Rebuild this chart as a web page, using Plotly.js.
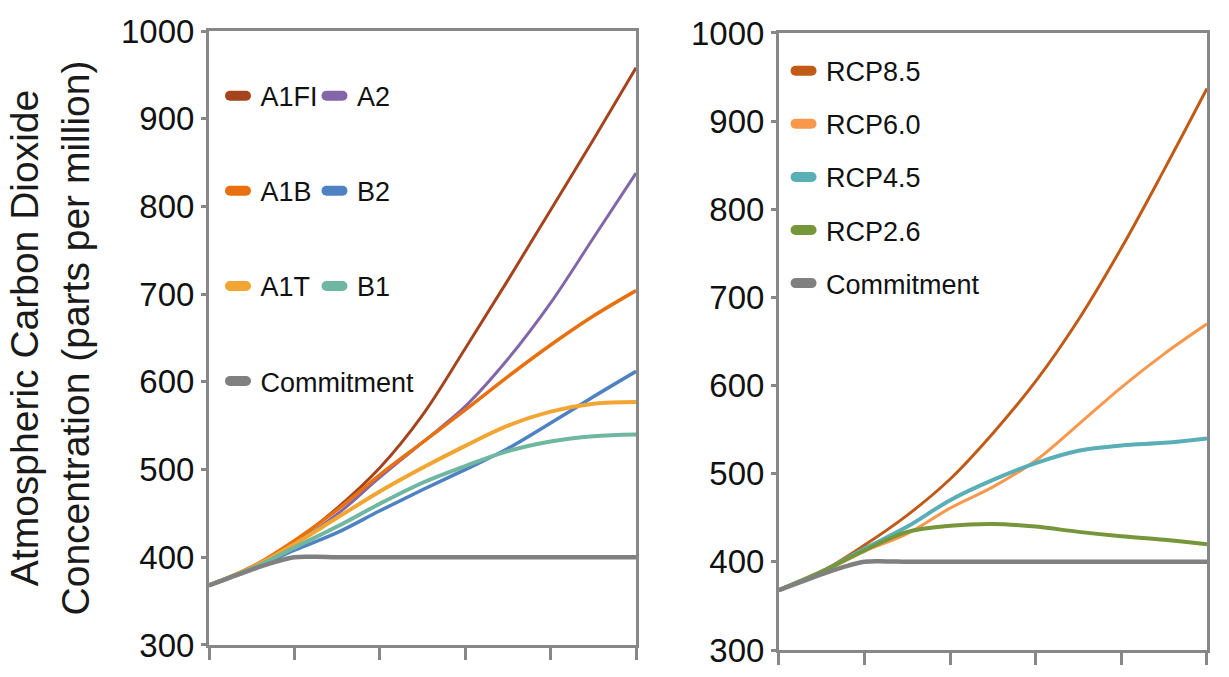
<!DOCTYPE html>
<html>
<head>
<meta charset="utf-8">
<script src="https://cdn.plot.ly/plotly-3.0.1.min.js"></script>
<style>
  html, body { margin: 0; padding: 0; background: #ffffff; }
  #chart { width: 1229px; height: 677px; }
  .legendlines path {
    stroke-width: 10px !important;
    stroke-linecap: round !important;
    stroke-dasharray: 16 100 !important;
    stroke-dashoffset: -4.5 !important;
  }
</style>
</head>
<body>
<div id="chart"></div>
<script>
// ---- data (ppm CO2) ----
const years = [2000, 2010, 2020, 2030, 2040, 2050, 2060, 2070, 2080, 2090, 2100];
const commitYears = [2000, 2005, 2010, 2015, 2020, 2025, 2030, 2040, 2060, 2080, 2100];

// SRES scenarios (left panel)
const a1fi = [368, 388, 418, 456, 502, 562, 638, 716, 796, 876, 958];
const a2   = [368, 387, 415, 449, 491, 531, 572, 626, 690, 764, 838];
const a1b  = [368, 389, 419, 454, 494, 531, 568, 606, 642, 675, 704];
const b2   = [368, 386, 408, 428, 453, 477, 500, 524, 553, 583, 612];
const a1t  = [368, 388, 415, 445, 475, 502, 527, 550, 566, 575, 577];
const b1   = [368, 387, 411, 435, 461, 485, 504, 521, 532, 538, 540];

// RCP scenarios (right panel)
const rcp85 = [368, 389, 419, 453, 494, 546, 605, 675, 756, 845, 937];
const rcp60 = [368, 388, 412, 432, 461, 485, 515, 556, 598, 636, 670];
const rcp45 = [368, 389, 415, 440, 470, 493, 512, 526, 532, 535, 540];
const rcp26 = [368, 389, 413, 434, 441, 443, 440, 434, 429, 425, 420];

// Commitment (constant composition)
const commitment = [368, 377, 386, 394, 400, 400.5, 400, 400, 400, 400, 400];

const yTicks = [300, 400, 500, 600, 700, 800, 900, 1000];
const yTitle = 'Atmospheric Carbon Dioxide<br>Concentration (parts per million)';

// ---- styling ----
const sans = '"Liberation Sans", Arial, sans-serif';
const axisGray = '#878787';

function tr(name, x, y, color, width, xa, ya, legend) {
  return {
    type: 'scatter', mode: 'lines', name: name, x: x, y: y,
    xaxis: xa, yaxis: ya, legend: legend, legendgroup: name + xa,
    line: {color: color, width: width, shape: 'spline', smoothing: 1},
    hoverinfo: 'skip'
  };
}

const data = [
  tr('A1FI', years, a1fi, '#a5441c', 3, 'x', 'y', 'legend'),
  tr('A2',   years, a2,   '#8266a8', 3, 'x', 'y', 'legend2'),
  tr('A1B',  years, a1b,  '#e8700f', 3.5, 'x', 'y', 'legend'),
  tr('B2',   years, b2,   '#4f82c2', 3.5, 'x', 'y', 'legend2'),
  tr('A1T',  years, a1t,  '#f2a533', 4, 'x', 'y', 'legend'),
  tr('B1',   years, b1,   '#6fb7a0', 4, 'x', 'y', 'legend2'),
  tr('Commitment', commitYears, commitment, '#808080', 4.5, 'x', 'y', 'legend'),
  tr('RCP8.5', years, rcp85, '#c05a15', 3, 'x2', 'y2', 'legend3'),
  tr('RCP6.0', years, rcp60, '#f7984c', 3, 'x2', 'y2', 'legend3'),
  tr('RCP4.5', years, rcp45, '#5aafb6', 4, 'x2', 'y2', 'legend3'),
  tr('RCP2.6', years, rcp26, '#76963a', 4, 'x2', 'y2', 'legend3'),
  tr('Commitment', commitYears, commitment, '#808080', 4.5, 'x2', 'y2', 'legend3')
];

function xAxis(domain, anchor) {
  return {
    domain: domain, anchor: anchor, range: [2000, 2100],
    tick0: 2000, dtick: 20, ticks: 'outside', ticklen: 12, tickwidth: 3,
    tickcolor: axisGray, showticklabels: false,
    showline: true, linewidth: 3, linecolor: axisGray, mirror: true,
    showgrid: false, zeroline: false, fixedrange: true
  };
}
function yAxis(domain, anchor) {
  return {
    domain: domain, anchor: anchor, range: [300, 1000],
    tickmode: 'array', tickvals: yTicks, ticktext: yTicks.map(String),
    ticks: 'outside', ticklen: 5, tickwidth: 3, tickcolor: axisGray,
    tickfont: {family: sans, size: 33, color: '#111111'},
    showline: true, linewidth: 3, linecolor: axisGray, mirror: true,
    showgrid: false, zeroline: false, fixedrange: true
  };
}

const yaxis1 = yAxis([0.0081, 1], 'x');
yaxis1.title = {
  text: yTitle,
  font: {family: sans, size: 39, color: '#1a1a1a'},
  standoff: 20
};
yaxis1.automargin = false;

const legendFont = {family: sans, size: 27, color: '#111111'};
function legendAt(x, y, gap) {
  return {
    x: x, y: y, xanchor: 'left', yanchor: 'top', orientation: 'v',
    bgcolor: 'rgba(0,0,0,0)', borderwidth: 0, font: legendFont,
    traceorder: 'grouped', tracegroupgap: gap, itemclick: false, itemdoubleclick: false
  };
}

const layout = {
  width: 1229, height: 677,
  margin: {l: 209, r: 22, t: 31, b: 27},
  paper_bgcolor: '#ffffff', plot_bgcolor: '#ffffff',
  showlegend: true,
  xaxis: xAxis([0, 0.4279], 'y'),
  yaxis: yaxis1,
  xaxis2: xAxis([0.5711, 1], 'y2'),
  yaxis2: yAxis([0, 0.9968], 'x2'),
  legend: legendAt(0.0115, 0.9343, 57),
  legend2: legendAt(0.1082, 0.9343, 57),
  legend3: legendAt(0.5782, 0.9747, 15)
};

Plotly.newPlot('chart', data, layout, {displayModeBar: false, staticPlot: true});
</script>
</body>
</html>
